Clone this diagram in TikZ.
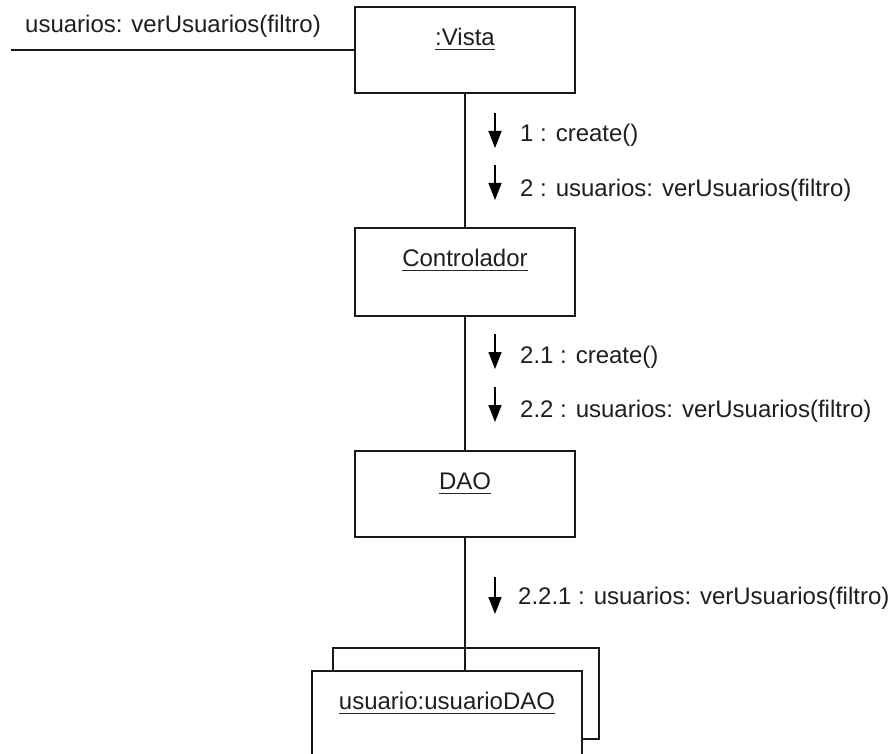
\documentclass[tikz,border=0pt]{standalone}
\usepackage{fontspec}
\setmainfont{Liberation Sans}
\usetikzlibrary{arrows.meta}
\begin{document}
\begin{tikzpicture}[x=1pt,y=-1pt,
  font=\fontsize{24}{28}\selectfont,
  objbox/.style={draw=black!90, line width=1.5pt, fill=white, inner sep=0pt, minimum width=220pt},
  objtext/.style={inner sep=0pt, anchor=base, text=black!88},
  msgtext/.style={inner sep=0pt, anchor=base west, text=black!88},
  link/.style={draw=black!90, line width=1.5pt},
  ularrow/.style={line width=1.6pt, draw=black, -{Triangle[width=13pt,length=17pt]}},
  uline/.style={draw=black!85, line width=1.4pt}
]
\clip (0,0) rectangle (889,754);
\fill[white] (0,0) rectangle (889,754);

% object boxes
\node[objbox, minimum height=86pt] (vista) at (465,50) {};
\node[objbox, minimum height=88pt] (ctrl) at (465,272) {};
\node[objbox, minimum height=86pt] (dao) at (465,494) {};
\node[objbox, minimum width=266pt, minimum height=91pt] (back) at (466,693.5) {};
\node[objbox, minimum width=270pt, minimum height=91pt] (front) at (447,716.5) {};

% object names
\node[objtext] (vistaT) at ([yshift=-39pt]vista.north) {:Vista};
\node[objtext] (ctrlT) at ([yshift=-39pt]ctrl.north) {Controlador};
\node[objtext] (daoT) at ([yshift=-39pt]dao.north) {DAO};
\node[objtext] (frontT) at ([yshift=-39pt]front.north) {usuario:usuarioDAO};
\foreach \t in {vistaT,ctrlT,daoT,frontT}{
  \draw[uline] ([yshift=-4pt]\t.base west) -- ([yshift=-4pt]\t.base east);
}

% links
\coordinate (in) at (11,50);
\draw[link] (in) -- (vista.west);
\draw[link] (vista.south) -- (ctrl.north);
\draw[link] (ctrl.south) -- (dao.north);
\draw[link] (dao.south) -- (dao.south |- front.north);

% incoming message
\node[msgtext] (m0) at (25,33) {usuarios: verUsuarios(filtro)};

% messages Vista -> Controlador
\coordinate (a1s) at (495,113); \coordinate (a1e) at (495,148);
\draw[ularrow] (a1s) -- (a1e);
\node[msgtext] (m1) at (520,142) {1 : create()};
\coordinate (a2s) at (495,165); \coordinate (a2e) at (495,200);
\draw[ularrow] (a2s) -- (a2e);
\node[msgtext] (m2) at (520,197) {2 : usuarios: verUsuarios(filtro)};

% messages Controlador -> DAO
\coordinate (a3s) at (495,334); \coordinate (a3e) at (495,369);
\draw[ularrow] (a3s) -- (a3e);
\node[msgtext] (m3) at (520,363) {2.1 : create()};
\coordinate (a4s) at (495,387); \coordinate (a4e) at (495,422);
\draw[ularrow] (a4s) -- (a4e);
\node[msgtext] (m4) at (520,417) {2.2 : usuarios: verUsuarios(filtro)};

% message DAO -> usuarioDAO
\coordinate (a5s) at (495,577); \coordinate (a5e) at (495,614);
\draw[ularrow] (a5s) -- (a5e);
\node[msgtext] (m5) at (518,604) {2.2.1 : usuarios: verUsuarios(filtro)};
\end{tikzpicture}
\end{document}
